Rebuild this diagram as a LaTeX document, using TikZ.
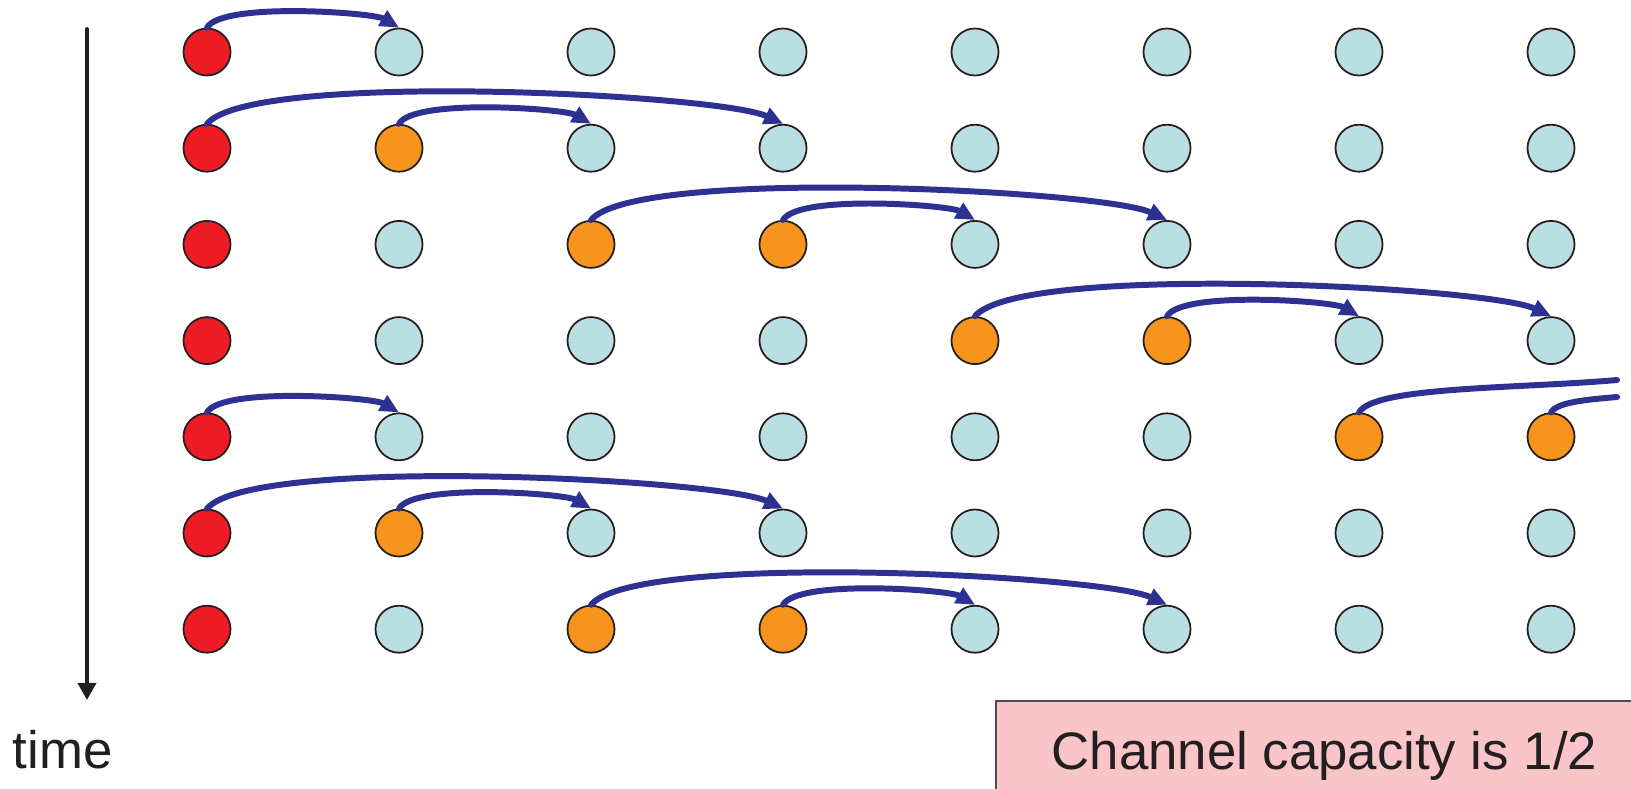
\documentclass[tikz,border=0pt]{standalone}
\usepackage{fontspec}
\setmainfont{Liberation Sans}
\usetikzlibrary{arrows.meta}
\definecolor{ink}{HTML}{231F20}
\definecolor{navy}{HTML}{2E3192}
\definecolor{src}{HTML}{ED1C24}
\definecolor{relay}{HTML}{F7941E}
\definecolor{idle}{HTML}{B9DFE2}
\definecolor{note}{HTML}{F9C5C8}
\definecolor{noteline}{HTML}{4D4D4F}
\begin{document}
\begin{tikzpicture}[x=0.01cm, y=-0.01cm, line join=round, line cap=round,
		>={Triangle[length=0.19cm,width=0.17cm]},
		dot/.style={circle, draw=ink, line width=0.5pt, minimum size=0.47cm, inner sep=0pt},
		hop/.style={->, draw=navy, line width=1.7pt, out=60, in=150, distance=0.3cm},
		jump/.style={->, draw=navy, line width=1.7pt, out=50, in=155, distance=0.7cm}]
	\def\dx{192}  % column step
	\def\dy{96.2} % row step
	\useasboundingbox (0,0) rectangle (1631,788);
	\clip (0,0) rectangle (1631,788);
	% one row of nodes per time step
	\foreach \r/\cols in {1/{src,idle,idle,idle,idle,idle,idle,idle},
			2/{src,relay,idle,idle,idle,idle,idle,idle},
			3/{src,idle,relay,relay,idle,idle,idle,idle},
			4/{src,idle,idle,idle,relay,relay,idle,idle},
			5/{src,idle,idle,idle,idle,idle,relay,relay},
			6/{src,relay,idle,idle,idle,idle,idle,idle},
			7/{src,idle,relay,relay,idle,idle,idle,idle}}
		\foreach \f [count=\c] in \cols
			\node[dot, fill=\f] (n-\r-\c) at ({207+(\c-1)*\dx},{52+(\r-1)*\dy}) {};
	% short and long hops
	\foreach \r/\a/\b in {1/1/2, 2/2/3, 3/4/5, 4/6/7, 5/1/2, 6/2/3, 7/4/5}
		\draw[hop] (n-\r-\a.north) to (n-\r-\b.north);
	\foreach \r/\a/\b in {2/1/4, 3/3/6, 4/5/8, 6/1/4, 7/3/6}
		\draw[jump] (n-\r-\a.north) to (n-\r-\b.north);
	% hops that run off the right edge
	\coordinate (cut-a) at (1617,380);
	\coordinate (cut-b) at (1617,397);
	\draw[navy, line width=1.7pt] (n-5-7.north) to[out=60, in=185, out distance=0.3cm, in distance=1cm] (cut-a);
	\draw[navy, line width=1.7pt] (n-5-8.north) to[out=60, in=185, out distance=0.12cm, in distance=0.3cm] (cut-b);
	% time axis
	\coordinate (t0) at (87,29);
	\coordinate (t1) at (87,700);
	\draw[ink, line width=1.1pt, -{Triangle[length=0.17cm,width=0.18cm]}] (t0) -- (t1);
	\node[anchor=base west, inner sep=0pt, text=ink, font=\fontsize{15pt}{18pt}\selectfont] (time) at (12,768) {time};
	% note box
	\draw[fill=note, draw=noteline, line width=0.5pt] (996,701) rectangle (1660,820);
	\node[anchor=base west, inner sep=0pt, text=ink, font=\fontsize{15pt}{18pt}\selectfont] (cap) at (1051,769) {Channel capacity is 1/2};
\end{tikzpicture}
\end{document}
